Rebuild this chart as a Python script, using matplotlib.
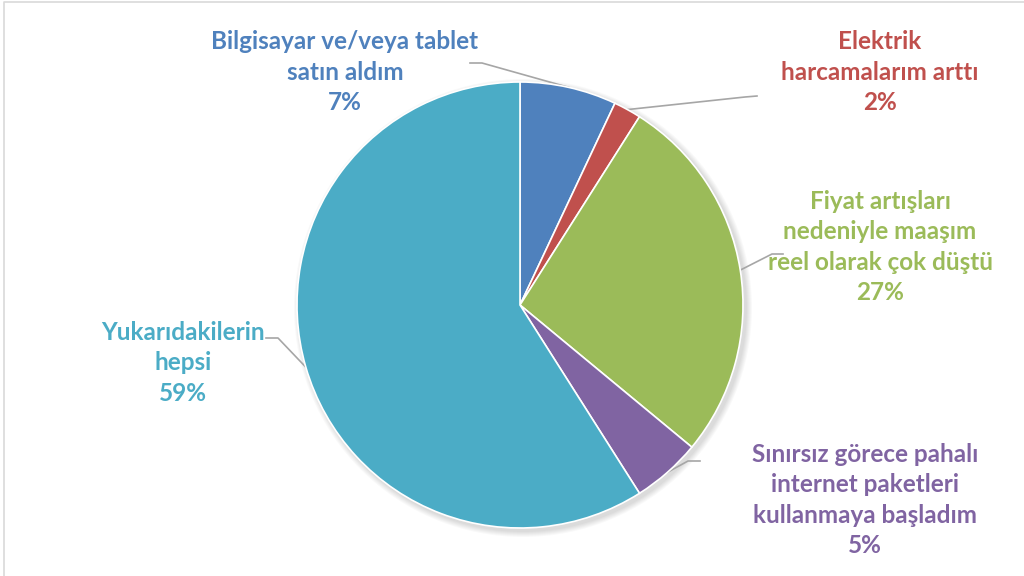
import matplotlib.pyplot as plt
import numpy as np

plt.rcParams['font.family'] = ['Lato', 'DejaVu Sans']

labels = ["Bilgisayar ve/veya tablet\nsatın aldım",
          "Elektrik\nharcamalarım arttı",
          "Fiyat artışları\nnedeniyle maaşım\nreel olarak çok düştü",
          "Sınırsız görece pahalı\ninternet paketleri\nkullanmaya başladım",
          "Yukarıdakilerin\nhepsi"]
values = [7, 2, 27, 5, 59]
colors = ["#4F81BD", "#C0504D", "#9BBB59", "#8064A2", "#4BACC6"]

# label block centres and leader line elbows, in pixels from top-left
label_pos = [(345, 72), (880, 72), (880, 247), (865, 500), (183, 363)]
elbows = [[(470, 63), (482, 63)],
          [(757, 96), (745, 97)],
          [(783, 254), (772, 254)],
          [(700, 461), (688, 461)],
          [(266, 338), (278, 338)]]

W, H = 1024, 576
cx, cy, r = 520, 305, 223

fig = plt.figure(figsize=(10.24, 5.76), dpi=100)
ax = fig.add_axes([0, 0, 1, 1])

wedges, _ = ax.pie(values, colors=colors, startangle=90, counterclock=False,
                   center=(cx, H - cy), radius=r,
                   wedgeprops=dict(edgecolor='white', linewidth=1.2))
for w in wedges:
    w.set_zorder(2)

ax.set_xlim(0, W)
ax.set_ylim(0, H)
ax.set_aspect('equal')
ax.axis('off')

# soft shadow
for k in range(6):
    ax.add_patch(plt.Circle((cx + 3, H - cy - 3), r + 1 + k, color='black',
                            alpha=0.025, lw=0, zorder=0))

total = sum(values)
for w, lab, v, c, (tx, ty), elb in zip(wedges, labels, values, colors, label_pos, elbows):
    mid = np.deg2rad((w.theta1 + w.theta2) / 2)
    ex, ey = cx + r * np.cos(mid), H - cy + r * np.sin(mid)
    xs = [elb[0][0], elb[1][0], ex]
    ys = [H - elb[0][1], H - elb[1][1], ey]
    ax.plot(xs, ys, color='#A6A6A6', lw=1.2, zorder=1)
    ax.text(tx, H - ty, f"{lab}\n{v / total * 100:.0f}%", color=c, fontsize=17.5,
            fontweight='bold', ha='center', va='center', linespacing=1.38, zorder=3)

# frame
ax.plot([4, 4, W], [0, H - 2, H - 2], color='#D9D9D9', lw=1.2, clip_on=False)

plt.savefig("out.png", dpi=100)
